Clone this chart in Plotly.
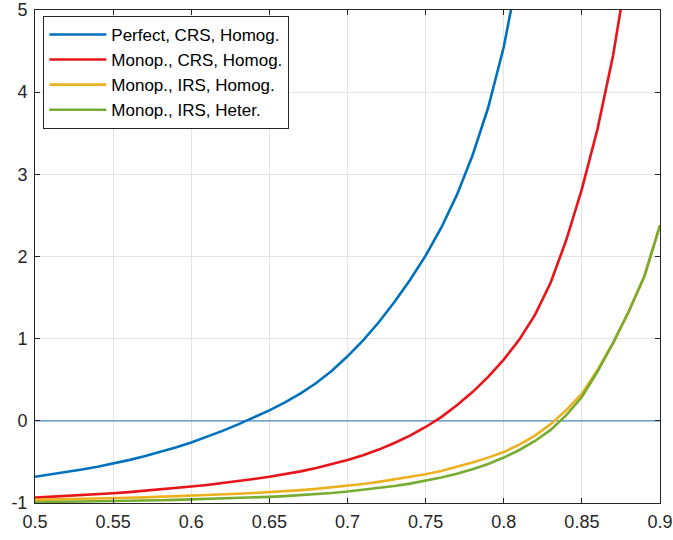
import plotly.graph_objects as go

x_vals = [0.50, 0.51, 0.52, 0.53, 0.54, 0.55, 0.56, 0.57, 0.58, 0.59,
          0.60, 0.61, 0.62, 0.63, 0.64, 0.65, 0.66, 0.67, 0.68, 0.69,
          0.70, 0.71, 0.72, 0.73, 0.74, 0.75, 0.76, 0.77, 0.78, 0.79,
          0.80, 0.81, 0.82, 0.83, 0.84, 0.85, 0.86, 0.87, 0.88, 0.89, 0.90]

perfect_crs_homog = [-0.68, -0.653, -0.624, -0.593, -0.558, -0.52, -0.478, -0.432, -0.382, -0.325,
                     -0.264, -0.196, -0.122, -0.043, 0.04, 0.128, 0.225, 0.335, 0.46, 0.61,
                     0.785, 0.98, 1.2, 1.445, 1.715, 2.01, 2.35, 2.75, 3.23, 3.81,
                     4.55, 5.45, 6.5, 7.8, 9.4, 11.4, 14.0, 17.0, 21.0, 26.0, 32.0]

monop_crs_homog = [-0.935, -0.926, -0.916, -0.905, -0.894, -0.882, -0.868, -0.853, -0.837, -0.82,
                   -0.80, -0.78, -0.758, -0.734, -0.708, -0.68, -0.65, -0.615, -0.575, -0.53,
                   -0.478, -0.418, -0.35, -0.27, -0.18, -0.075, 0.045, 0.19, 0.35, 0.535,
                   0.745, 0.99, 1.29, 1.68, 2.2, 2.82, 3.55, 4.45, 5.6, 7.2, 9.4]

monop_irs_homog = [-0.962, -0.959, -0.955, -0.951, -0.947, -0.942, -0.937, -0.931, -0.925, -0.919,
                   -0.912, -0.905, -0.897, -0.888, -0.878, -0.868, -0.856, -0.843, -0.828, -0.81,
                   -0.79, -0.768, -0.743, -0.714, -0.684, -0.65, -0.61, -0.563, -0.508, -0.448,
                   -0.38, -0.29, -0.18, -0.04, 0.13, 0.33, 0.62, 0.95, 1.33, 1.76, 2.38]

monop_irs_heter = [-0.99, -0.988, -0.986, -0.984, -0.981, -0.978, -0.975, -0.971, -0.967, -0.962,
                   -0.957, -0.952, -0.946, -0.94, -0.933, -0.925, -0.916, -0.905, -0.893, -0.878,
                   -0.86, -0.84, -0.818, -0.793, -0.764, -0.73, -0.69, -0.645, -0.59, -0.525,
                   -0.447, -0.355, -0.245, -0.11, 0.07, 0.29, 0.60, 0.95, 1.33, 1.76, 2.38]

series_names = ["Perfect, CRS, Homog.", "Monop., CRS, Homog.",
                "Monop., IRS, Homog.", "Monop., IRS, Heter."]
series_colors = ["#0072BD", "#E8141A", "#EDB120", "#77AC30"]

x_tickvals = [0.5, 0.55, 0.6, 0.65, 0.7, 0.75, 0.8, 0.85, 0.9]
x_ticktext = ["0.5", "0.55", "0.6", "0.65", "0.7", "0.75", "0.8", "0.85", "0.9"]
y_tickvals = [-1, 0, 1, 2, 3, 4, 5]
y_ticktext = ["-1", "0", "1", "2", "3", "4", "5"]
x_range = [0.5, 0.9]
y_range = [-1, 5]

fig = go.Figure()

# zero reference line
fig.add_trace(go.Scatter(x=x_range, y=[0, 0], mode="lines",
                         line=dict(color="#4a8cc4", width=1.4),
                         showlegend=False, hoverinfo="skip"))

for name, ys, col in zip(series_names,
                         [perfect_crs_homog, monop_crs_homog, monop_irs_homog, monop_irs_heter],
                         series_colors):
    fig.add_trace(go.Scatter(x=x_vals, y=ys, mode="lines", name=name,
                             line=dict(color=col, width=2.6)))

font_family = "Liberation Sans, Arial, sans-serif"
axis_common = dict(
    showline=True, linecolor="#262626", linewidth=1, mirror="ticks",
    ticks="inside", ticklen=5, tickcolor="#262626",
    showgrid=True, gridcolor="#e3e3e3", gridwidth=1,
    zeroline=False, automargin=False,
    tickfont=dict(family=font_family, size=18, color="#262626"),
)

fig.update_xaxes(range=x_range, tickvals=x_tickvals, ticktext=x_ticktext,
                 ticklabelstandoff=2, **axis_common)
fig.update_yaxes(range=y_range, tickvals=y_tickvals, ticktext=y_ticktext,
                 ticklabelstandoff=3, **axis_common)

fig.update_layout(
    width=673, height=540,
    margin=dict(l=35, r=13, t=10, b=37),
    paper_bgcolor="white", plot_bgcolor="white",
    showlegend=True,
    legend=dict(
        x=0.0133, y=0.988, xanchor="left", yanchor="top",
        bgcolor="white", bordercolor="#262626", borderwidth=1,
        font=dict(family=font_family, size=17, color="#000000"),
        itemwidth=57, tracegroupgap=0,
    ),
)

fig.write_html("out.html")
